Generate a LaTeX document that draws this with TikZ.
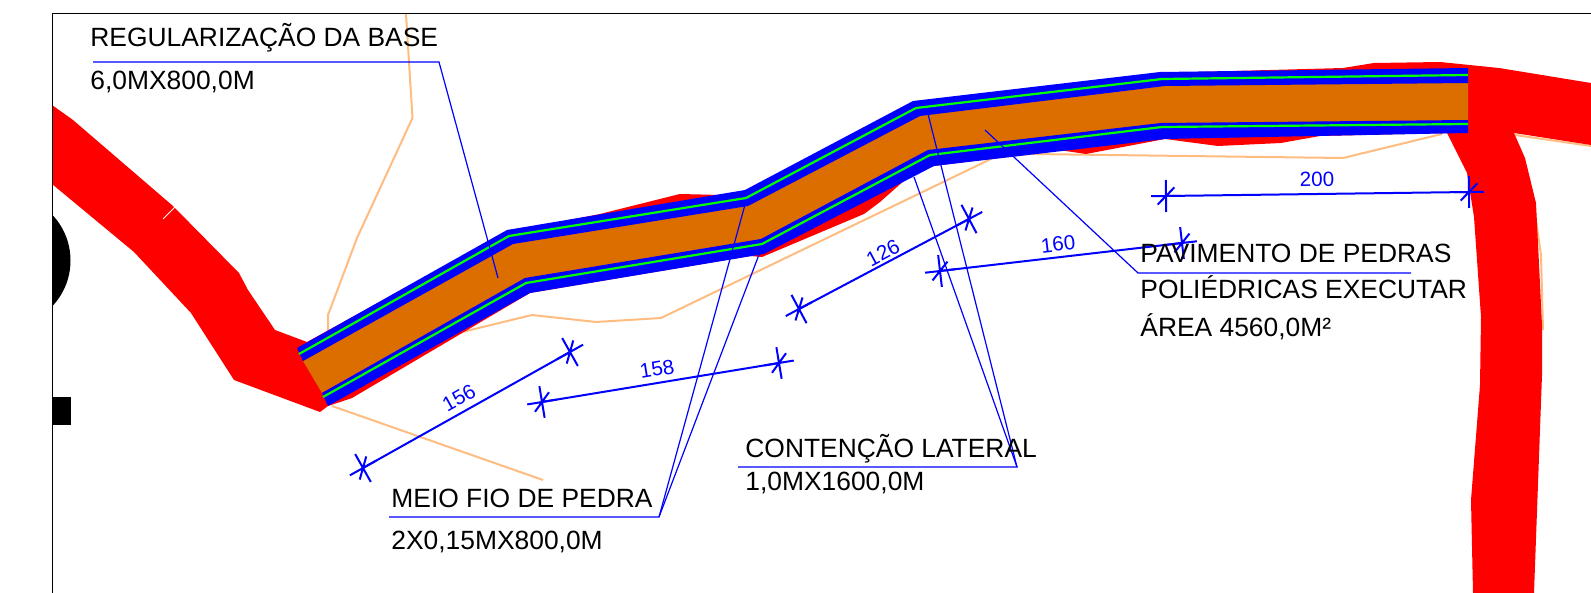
\documentclass[tikz,border=0pt]{standalone}
\usepackage{fontspec}
\usepackage{xcolor}
\setmainfont{Liberation Sans}
\usetikzlibrary{calc}

\definecolor{roadred}{RGB}{255,0,0}
\definecolor{paving}{RGB}{220,110,0}
\definecolor{limit}{RGB}{255,188,128}
\definecolor{kerb}{RGB}{0,0,255}
\definecolor{kerbline}{RGB}{0,255,0}

\tikzset{
  leader/.style={kerb,line width=0.6pt,line join=miter},
  dimline/.style={kerb,line width=1pt},
  limitline/.style={limit,line width=1pt},
  note/.style={anchor=base west,inner sep=0pt,font=\fontsize{13.2}{15}\selectfont},
  dimtext/.style={kerb,inner sep=0pt,font=\fontsize{10.3}{12}\selectfont}
}

% one end of a dimension: point, angle
\newcommand{\dimtick}[2]{
  \draw[dimline,shift={(#1)},rotate=#2] (-15,0) -- (15,0) (0,-16) -- (0,16) (-8.5,8.5) -- (8.5,-8.5);
}

\begin{document}
\begin{tikzpicture}[x=0.5pt,y=-0.5pt]
    \useasboundingbox (0,0) rectangle (1591,593);

    % limits of the plot
    \draw[limitline] (406,14) -- (412.5,118) -- (357,238) -- (328,315) -- (328,345);
    \draw[limitline] (332,406) -- (543,480);
    \draw[limitline] (450,335) -- (532,315) -- (596,322) -- (661,318) -- (993,158)
      -- (1030,154) -- (1343,158) -- (1442,134);
    \draw[limitline] (1515,135) -- (1591,146);
    \draw[limitline] (1533,200) -- (1541,255) -- (1543,330);

    % road
    \fill[roadred] (52,105) -- (73,120) -- (173,206) -- (239,273) -- (248,290) -- (275,330)
      -- (307,342) -- (507,232) -- (600,214) -- (680,194) -- (721,195) -- (745,191)
      -- (913,102) -- (1160,73) -- (1343,68) -- (1374,63) -- (1440,62) -- (1499,68)
      -- (1591,83) -- (1591,145) -- (1514,133) -- (1525,158) -- (1536,203) -- (1542,325)
      -- (1542,375) -- (1534,593) -- (1473,593) -- (1471,500) -- (1480,385) -- (1481,317)
      -- (1474,217) -- (1467,173) -- (1447,133) -- (1320,136) -- (1281,143) -- (1218,146)
      -- (1165,139) -- (1086,154) -- (1059,150) -- (934,166) -- (914,172) -- (880,202)
      -- (864,214) -- (762,257) -- (750,256) -- (530,293) -- (352,398) -- (328,406)
      -- (320,412) -- (234,380) -- (191,313) -- (134,252) -- (52,184) -- cycle;
    \draw[white,line width=0.4pt] (175,207) -- (163,219);

    % black marks at the frame
    \begin{scope}
      \clip (52,0) rectangle (200,593);
      \fill[black] (4,260.5) circle[radius=66.5];
    \end{scope}
    \fill[black] (52,397) rectangle (71,425);

    % paved strip and the two kerbs
    \fill[paving] (303,361) -- (513,243) -- (748,205) -- (920,115) -- (1165,85) -- (1468,82)
      -- (1468,121) -- (1161,124) -- (928,151) -- (761,241) -- (525,280) -- (322,393) -- cycle;
    \fill[kerb] (297,348) -- (507,230) -- (745,190) -- (913,101) -- (1160,72) -- (1468,68)
      -- (1468,83) -- (1165,86) -- (920,116) -- (748,206) -- (513,244) -- (303,361) -- cycle;
    \fill[kerb] (322,393) -- (525,278) -- (761,239) -- (928,150) -- (1161,123) -- (1468,120)
      -- (1468,133) -- (1165,139) -- (934,166) -- (764,254) -- (530,293) -- (328,406) -- cycle;
    \draw[kerbline,line width=1.1pt] (299,354) -- (509,236) -- (746,198) -- (916,108) -- (1162,79) -- (1468,75);
    \draw[kerbline,line width=1.1pt] (323,397) -- (526,283) -- (762,244) -- (930,155) -- (1162,127) -- (1468,124);

    % frame
    \draw[black,line width=0.5pt] (1591,14) -- (52,14) -- (52,593);

    % notes
    \coordinate (base1a) at (93,62);
    \coordinate (base1b) at (439,62);
    \coordinate (base1t) at (498,278);
    \coordinate (curb1a) at (389,517);
    \coordinate (curb1b) at (659,517);
    \coordinate (curb1t) at (746,201);
    \coordinate (curb2t) at (760,252);
    \coordinate (wall1a) at (738,467);
    \coordinate (wall1b) at (1017,467);
    \coordinate (wall1t) at (914,177);
    \coordinate (wall2t) at (927,110);
    \coordinate (pave1a) at (1411,273);
    \coordinate (pave1b) at (1138,273);
    \coordinate (pave1t) at (985,130);

    \draw[leader] (base1a) -- (base1b) -- (base1t);
    \draw[leader] (curb1a) -- (curb1b) -- (curb1t);
    \draw[leader] (curb1b) -- (curb2t);
    \draw[leader] (wall1a) -- (wall1b) -- (wall1t);
    \draw[leader] (wall1b) -- (wall2t);
    \draw[leader] (pave1a) -- (pave1b) -- (pave1t);

    % dimensions
    \foreach \nam/\ax/\ay/\bx/\by/\ang/\lx/\ly/\txt in {
        da/363/468/570/352/29.3/459/398/156,
        db/542/402/779/363/9.4/657/369/158,
        dc/799/309/969/219/28/883/253/126,
        dd/940/271/1182/243/6.6/1058/244/160,
        de/1166/196/1469/192/0.8/1317/179/200} {
      \coordinate (\nam a) at (\ax,\ay);
      \coordinate (\nam b) at (\bx,\by);
      \draw[dimline] (\nam a) -- (\nam b);
      \dimtick{\nam a}{\ang}
      \dimtick{\nam b}{\ang}
      \node[dimtext,rotate=\ang] (\nam t) at (\lx,\ly) {\txt};
    }

    \node[note] (base1) at (90,47) {REGULARIZAÇÃO DA BASE};
    \node[note] (base2) at (90,90) {6,0MX800,0M};
    \node[note] (curb1) at (391,507) {MEIO FIO DE PEDRA};
    \node[note] (curb2) at (391,549) {2X0,15MX800,0M};
    \node[note] (wall1) at (745,457) {CONTENÇÃO LATERAL};
    \node[note] (wall2) at (745,490) {1,0MX1600,0M};
    \node[note] (pave1) at (1140,263) {PAVIMENTO DE PEDRAS};
    \node[note] (pave2) at (1140,299) {POLIÉDRICAS EXECUTAR};
    \node[note] (pave3) at (1140,336) {ÁREA 4560,0M²};
\end{tikzpicture}
\end{document}
